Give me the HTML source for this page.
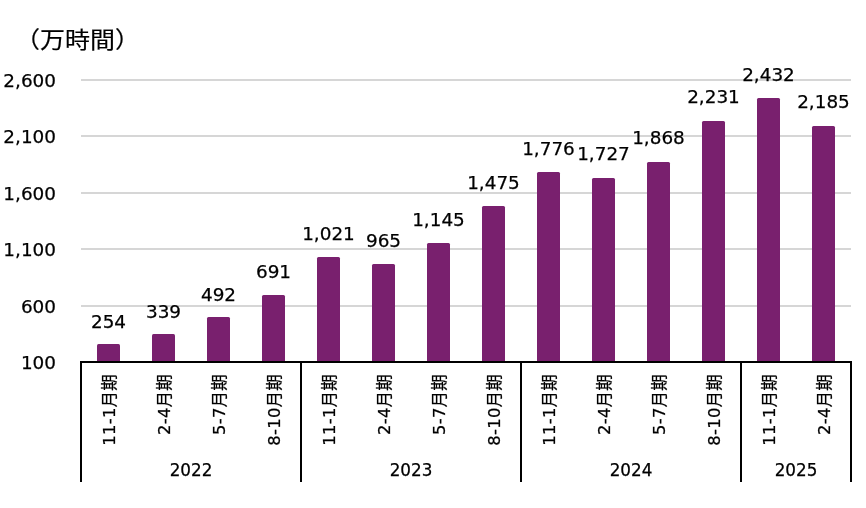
<!DOCTYPE html>
<html lang="ja"><head><meta charset="utf-8"><title>chart</title>
<style>
html,body{margin:0;padding:0;background:#fff;}
body{width:866px;height:508px;position:relative;overflow:hidden;font-family:"DejaVu Sans","Liberation Sans","Noto Sans CJK JP",sans-serif;color:#000;-webkit-text-stroke:0.25px #000;}
.g{position:absolute;left:81px;width:770px;height:2px;background:#d6d6d6;}
.b{position:absolute;background:#79206e;border-radius:1.5px 1.5px 0 0;}
.v{position:absolute;width:80px;text-align:center;font-size:18.4px;line-height:20px;height:20px;white-space:nowrap;}
.y{position:absolute;left:0;width:56px;text-align:right;font-size:18.4px;line-height:20px;height:20px;white-space:nowrap;}
.c{position:absolute;letter-spacing:0.3px;font-size:16.400000000000002px;line-height:20px;height:20px;width:120px;text-align:right;white-space:nowrap;transform-origin:100% 50%;transform:rotate(-90deg);}
.yr{position:absolute;font-size:16.8px;line-height:20px;height:20px;text-align:center;white-space:nowrap;}
.ax{position:absolute;background:#000;}
.t{position:absolute;left:15px;top:22px;font-size:25px;line-height:34px;white-space:nowrap;font-family:"Liberation Sans","Noto Sans CJK JP",sans-serif;font-weight:400;-webkit-text-stroke:0.2px #000;transform-origin:0 85%;transform:scaleY(0.92);}
</style></head><body>
<div class="t">（万時間）</div>
<div class="g" style="top:79px"></div>
<div class="g" style="top:135px"></div>
<div class="g" style="top:192px"></div>
<div class="g" style="top:248px"></div>
<div class="g" style="top:305px"></div>
<div class="y" style="top:70.85px">2,600</div>
<div class="y" style="top:126.85px">2,100</div>
<div class="y" style="top:183.85px">1,600</div>
<div class="y" style="top:239.85px">1,100</div>
<div class="y" style="top:296.85px">600</div>
<div class="y" style="top:352.85px">100</div>
<div class="b" style="left:97.0px;top:344.10px;width:23px;height:17.90px"></div>
<div class="v" style="left:68.5px;top:311.63px">254</div>
<div class="c" style="left:-9.6px;top:364.0px">11-1月期</div>
<div class="b" style="left:152.0px;top:334.49px;width:23px;height:27.51px"></div>
<div class="v" style="left:123.5px;top:302.03px">339</div>
<div class="c" style="left:45.4px;top:364.0px">2-4月期</div>
<div class="b" style="left:207.0px;top:317.20px;width:23px;height:44.80px"></div>
<div class="v" style="left:178.5px;top:284.54px">492</div>
<div class="c" style="left:100.4px;top:364.0px">5-7月期</div>
<div class="b" style="left:262.0px;top:294.72px;width:23px;height:67.28px"></div>
<div class="v" style="left:233.5px;top:261.95px">691</div>
<div class="c" style="left:155.4px;top:364.0px">8-10月期</div>
<div class="b" style="left:317.0px;top:257.43px;width:23px;height:104.57px"></div>
<div class="v" style="left:288.5px;top:224.46px">1,021</div>
<div class="c" style="left:210.4px;top:364.0px">11-1月期</div>
<div class="b" style="left:372.0px;top:263.75px;width:23px;height:98.25px"></div>
<div class="v" style="left:343.5px;top:230.79px">965</div>
<div class="c" style="left:265.4px;top:364.0px">2-4月期</div>
<div class="b" style="left:427.0px;top:243.42px;width:23px;height:118.58px"></div>
<div class="v" style="left:398.5px;top:210.35px">1,145</div>
<div class="c" style="left:320.4px;top:364.0px">5-7月期</div>
<div class="b" style="left:482.0px;top:206.12px;width:23px;height:155.88px"></div>
<div class="v" style="left:453.5px;top:172.86px">1,475</div>
<div class="c" style="left:375.4px;top:364.0px">8-10月期</div>
<div class="b" style="left:537.0px;top:172.11px;width:23px;height:189.89px"></div>
<div class="v" style="left:508.5px;top:138.75px">1,776</div>
<div class="c" style="left:430.4px;top:364.0px">11-1月期</div>
<div class="b" style="left:592.0px;top:177.65px;width:23px;height:184.35px"></div>
<div class="v" style="left:563.5px;top:144.28px">1,727</div>
<div class="c" style="left:485.4px;top:364.0px">2-4月期</div>
<div class="b" style="left:647.0px;top:161.72px;width:23px;height:200.28px"></div>
<div class="v" style="left:618.5px;top:128.35px">1,868</div>
<div class="c" style="left:540.4px;top:364.0px">5-7月期</div>
<div class="b" style="left:702.0px;top:120.70px;width:23px;height:241.30px"></div>
<div class="v" style="left:673.5px;top:87.23px">2,231</div>
<div class="c" style="left:595.4px;top:364.0px">8-10月期</div>
<div class="b" style="left:757.0px;top:97.98px;width:23px;height:264.02px"></div>
<div class="v" style="left:728.5px;top:65.12px">2,432</div>
<div class="c" style="left:650.4px;top:364.0px">11-1月期</div>
<div class="b" style="left:812.0px;top:125.90px;width:23px;height:236.10px"></div>
<div class="v" style="left:783.5px;top:92.33px">2,185</div>
<div class="c" style="left:705.4px;top:364.0px">2-4月期</div>
<div class="ax" style="left:80px;top:361px;width:772px;height:2px"></div>
<div class="ax" style="left:80px;top:361px;width:2px;height:121px"></div>
<div class="ax" style="left:300px;top:361px;width:2px;height:121px"></div>
<div class="ax" style="left:520px;top:361px;width:2px;height:121px"></div>
<div class="ax" style="left:740px;top:361px;width:2px;height:121px"></div>
<div class="ax" style="left:850px;top:361px;width:2px;height:121px"></div>
<div class="yr" style="left:81px;width:220px;top:460px">2022</div>
<div class="yr" style="left:301px;width:220px;top:460px">2023</div>
<div class="yr" style="left:521px;width:220px;top:460px">2024</div>
<div class="yr" style="left:741px;width:110px;top:460px">2025</div>
</body></html>
